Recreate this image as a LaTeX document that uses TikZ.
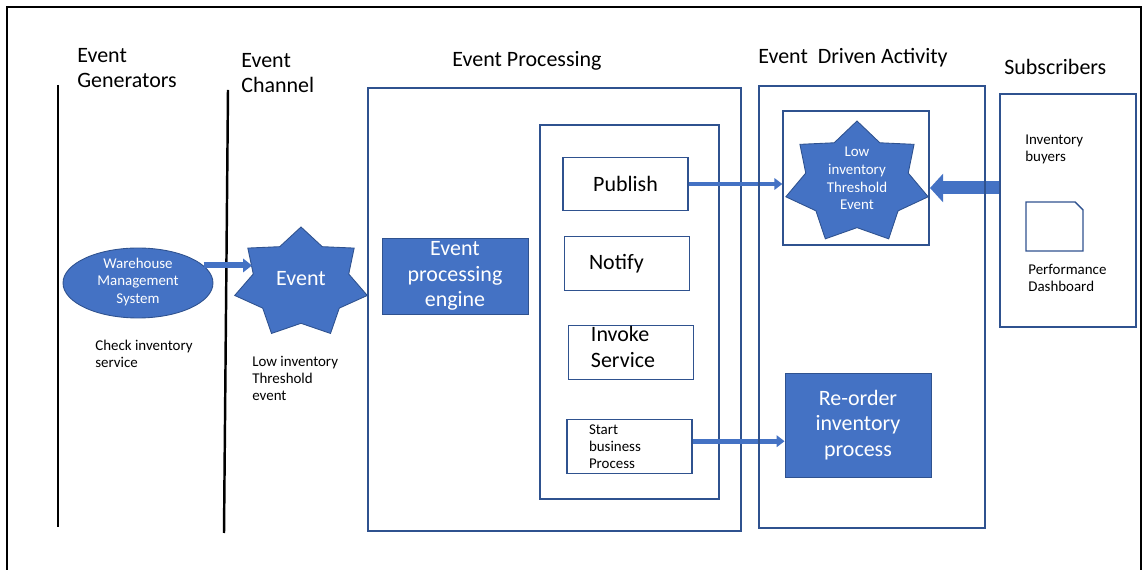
\documentclass[tikz,border=0pt]{standalone}
\usepackage{fontspec}
\setmainfont{Carlito}
\usetikzlibrary{arrows.meta,shapes.geometric}
\definecolor{evblue}{HTML}{4472C4}
\definecolor{edgeblue}{HTML}{2F528F}

\begin{document}
\begin{tikzpicture}[x=0.02cm, y=-0.02cm,
	every node/.style={inner sep=0pt, align=left},
	title/.style={font=\fontsize{12.5}{14.7}\selectfont, anchor=west},
	small/.style={font=\fontsize{8.5}{9.7}\selectfont, anchor=west},
	mid/.style={font=\fontsize{12.5}{14.7}\selectfont},
	opbox/.style={draw=edgeblue, line width=0.8pt, mid, minimum width=2.5cm, minimum height=1.07cm},
	bluebox/.style={fill=evblue, draw=edgeblue, line width=0.5pt, text=white, mid, align=center, minimum width=2.92cm},
	arr/.style={evblue, line width=2.8pt, -{Triangle[width=6.5pt,length=4.5pt]}},
	bigarr/.style={evblue, line width=7.4pt, -{Triangle[width=16pt,length=7.5pt]}}]
	\useasboundingbox (0,0) rectangle (1143,570);
	\draw[line width=1.2pt] (7,575) -- (7,7) -- (1141,7) -- (1141,575);

	\node[title] (gen) at (77,68) {Event\\Generators};
	\node[title] (chan) at (241,73) {Event\\Channel};
	\node[title, anchor=center] (proc) at (527,61) {Event Processing};
	\node[title] (act) at (758,58) {Event~~Driven Activity};
	\node[title] (subt) at (1004,67) {Subscribers};

	\draw[line width=1.4pt] (58,85) -- (58,527);
	\draw[line width=1.4pt] (228,90) -- (224,533);

	\node[ellipse, fill=evblue, draw=edgeblue, line width=0.5pt, minimum width=3cm, minimum height=1.4cm] (whs) at (138,283) {};
	\node[font=\fontsize{8.5}{9.9}\selectfont, text=white, align=center] (whstxt) at (138,282) {Warehouse\\Management\\System};
	\node[small] (chk) at (95,353.5) {Check inventory\\service};

	\filldraw[fill=evblue, draw=edgeblue, line width=0.5pt] plot[variable=\k, samples at={0,...,13}] ({301+68*(1-0.28*mod(\k,2))*cos(90+\k*180/7)}, {283-56*(1-0.28*mod(\k,2))*sin(90+\k*180/7)}) -- cycle;
	\node[mid, text=white] (evtxt) at (301,279) {Event};
	\coordinate (evin) at (252,267);
	\draw[arr, line width=3.4pt, -{Triangle[width=7.5pt,length=5pt]}] (whs.15) -- (whs.15 -| evin);
	\node[small] (lowev) at (252,378.5) {Low inventory\\Threshold\\event};

	\draw[edgeblue, line width=1.4pt] (368,88) rectangle (741,531);
	\node[bluebox, minimum height=1.52cm] (eng) at (455,276) {Event\\processing\\engine};
	\draw[edgeblue, line width=0.8pt] (540,125) rectangle (719,499);
	\node[opbox] (pub) at (625.5,184) {Publish};
	\node[opbox, text width=1.52cm] (ntf) at (627,263.5) {Notify};
	\node[opbox] (inv) at (631,352.5) {};
	\node[mid] (invtxt) at (623,347) {Invoke\\Service};
	\node[opbox, text width=1.62cm, font=\fontsize{8.5}{9.7}\selectfont] (sbp) at (629.5,446.5) {Start\\business\\Process};

	\node[draw=edgeblue, line width=0.8pt, minimum width=2.72cm, minimum height=4.66cm] (subs) at (1068,210.5) {};
	\node[small] (buy) at (1025,149.5) {Inventory\\buyers};
	\draw[edgeblue, line width=0.8pt] (1026,202) -- (1075,202) -- (1083,210) -- (1083,251) -- (1026,251) -- cycle;
	\node[small] (dash) at (1028,277.5) {Performance\\Dashboard};

	\node[draw=edgeblue, line width=0.8pt, minimum width=2.92cm, minimum height=2.68cm] (lowbox) at (856,178) {};
	\filldraw[fill=evblue, draw=edgeblue, line width=0.5pt] plot[variable=\k, samples at={0,...,13}] ({857+73*(1-0.28*mod(\k,2))*cos(90+\k*180/7)}, {183-62*(1-0.28*mod(\k,2))*sin(90+\k*180/7)}) -- cycle;
	\node[font=\fontsize{8.5}{10}\selectfont, text=white, align=center] (lowtxt) at (857,178.5) {Low\\inventory\\Threshold\\Event};
	\node[bluebox, minimum height=2.08cm] (reord) at (858,425) {Re-order\\inventory\\process};

	\coordinate (lowtip) at (930,188);
	\draw[bigarr] (subs.west |- lowtip) -- (lowtip);
	\draw[arr] (pub) -- (pub -| lowbox.west);
	\draw[arr] ([yshift=3pt]sbp.east) -- ([yshift=3pt]sbp.east -| reord.west);
	\draw[edgeblue, line width=1.4pt] (759,86) rectangle (985,528);
\end{tikzpicture}
\end{document}
